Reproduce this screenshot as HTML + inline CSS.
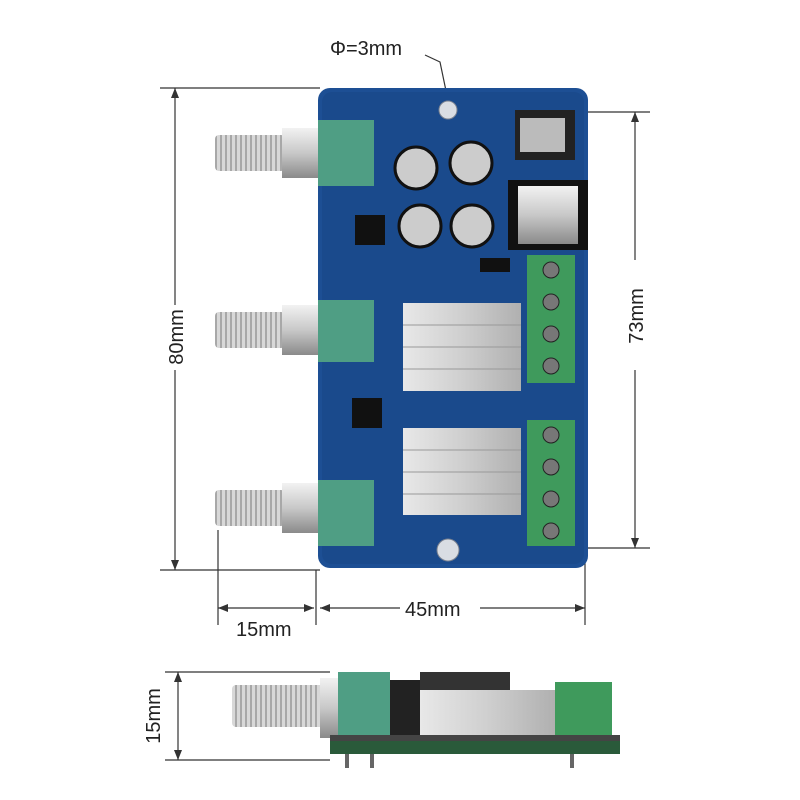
<!DOCTYPE html>
<html><head><meta charset="utf-8"><style>
html,body{margin:0;padding:0;background:#fff;}
svg{display:block}
text{font-family:"Liberation Sans",sans-serif;fill:#222}
</style></head><body>
<svg width="800" height="800" viewBox="0 0 800 800" xmlns="http://www.w3.org/2000/svg">
<defs>
<linearGradient id="metal" x1="0" y1="0" x2="0" y2="1">
<stop offset="0" stop-color="#f2f2f2"/><stop offset="0.5" stop-color="#c8c8c8"/><stop offset="1" stop-color="#8a8a8a"/></linearGradient>
<linearGradient id="hs" x1="0" y1="0" x2="1" y2="0">
<stop offset="0" stop-color="#e8e8e8"/><stop offset="0.5" stop-color="#cfcfcf"/><stop offset="1" stop-color="#b0b0b0"/></linearGradient>
<pattern id="knurl" width="5" height="10" patternUnits="userSpaceOnUse"><rect width="5" height="10" fill="#d8d8d8"/><rect width="2" height="10" fill="#a8a8a8"/></pattern>
</defs>
<!-- dimension lines -->
<g stroke="#333" stroke-width="1.2" fill="none">
<line x1="160" y1="88" x2="320" y2="88"/><line x1="160" y1="570" x2="320" y2="570"/>
<line x1="175" y1="88" x2="175" y2="305"/><line x1="175" y1="370" x2="175" y2="570"/>
<line x1="585" y1="112" x2="650" y2="112"/><line x1="575" y1="548" x2="650" y2="548"/>
<line x1="635" y1="112" x2="635" y2="260"/><line x1="635" y1="370" x2="635" y2="548"/>
<line x1="218" y1="530" x2="218" y2="625"/><line x1="316" y1="570" x2="316" y2="625"/><line x1="585" y1="560" x2="585" y2="625"/>
<line x1="218" y1="608" x2="314" y2="608"/><line x1="320" y1="608" x2="400" y2="608"/><line x1="480" y1="608" x2="585" y2="608"/>
<polyline points="425,55 440,62 450,110"/>
<line x1="165" y1="672" x2="330" y2="672"/><line x1="165" y1="760" x2="330" y2="760"/>
<line x1="178" y1="672" x2="178" y2="760"/>
</g>
<g fill="#333">
<polygon points="175,88 171,98 179,98"/><polygon points="175,570 171,560 179,560"/>
<polygon points="635,112 631,122 639,122"/><polygon points="635,548 631,538 639,538"/>
<polygon points="218,608 228,604 228,612"/><polygon points="314,608 304,604 304,612"/>
<polygon points="320,608 330,604 330,612"/><polygon points="585,608 575,604 575,612"/>
<polygon points="178,672 174,682 182,682"/><polygon points="178,760 174,750 182,750"/>
</g>
<text x="330" y="55" font-size="20">Φ=3mm</text>
<text x="405" y="616" font-size="20">45mm</text>
<text x="236" y="636" font-size="20">15mm</text>
<text transform="translate(183,337) rotate(-90)" font-size="20" text-anchor="middle">80mm</text>
<text transform="translate(643,316) rotate(-90)" font-size="20" text-anchor="middle">73mm</text>
<text transform="translate(160,716) rotate(-90)" font-size="20" text-anchor="middle">15mm</text>
<!-- PCB -->
<rect x="318" y="88" width="270" height="480" rx="12" fill="#1d4f94"/>
<rect x="322" y="92" width="262" height="472" rx="10" fill="#1a4a8c"/>
<circle cx="448" cy="110" r="9" fill="#d9dde3" stroke="#7a8290"/>
<circle cx="448" cy="550" r="11" fill="#d9dde3" stroke="#7a8290"/>
<!-- pots -->
<g>
<rect x="215" y="135" width="70" height="36" fill="url(#knurl)" rx="4"/>
<rect x="282" y="128" width="40" height="50" fill="url(#metal)"/>
<rect x="318" y="120" width="56" height="66" fill="#4f9e84"/>
<rect x="215" y="312" width="70" height="36" fill="url(#knurl)" rx="4"/>
<rect x="282" y="305" width="40" height="50" fill="url(#metal)"/>
<rect x="318" y="300" width="56" height="62" fill="#4f9e84"/>
<rect x="215" y="490" width="70" height="36" fill="url(#knurl)" rx="4"/>
<rect x="282" y="483" width="40" height="50" fill="url(#metal)"/>
<rect x="318" y="480" width="56" height="66" fill="#4f9e84"/>
</g>
<!-- caps -->
<g stroke="#111" stroke-width="3">
<circle cx="416" cy="168" r="21" fill="#ccc"/><circle cx="471" cy="163" r="21" fill="#ccc"/>
<circle cx="420" cy="226" r="21" fill="#ccc"/><circle cx="472" cy="226" r="21" fill="#ccc"/>
</g>
<!-- jacks -->
<rect x="515" y="110" width="60" height="50" fill="#222"/>
<rect x="520" y="118" width="45" height="34" fill="#bbb"/>
<rect x="508" y="180" width="80" height="70" fill="#111"/>
<rect x="518" y="186" width="60" height="58" fill="url(#metal)"/>
<rect x="480" y="258" width="30" height="14" fill="#111"/>
<!-- ICs -->
<rect x="355" y="215" width="30" height="30" fill="#111"/>
<rect x="352" y="398" width="30" height="30" fill="#111"/>
<!-- heatsinks -->
<rect x="403" y="303" width="118" height="88" fill="url(#hs)"/>
<rect x="403" y="428" width="118" height="87" fill="url(#hs)"/>
<g stroke="#999" stroke-width="1">
<line x1="403" y1="325" x2="521" y2="325"/><line x1="403" y1="347" x2="521" y2="347"/><line x1="403" y1="369" x2="521" y2="369"/>
<line x1="403" y1="450" x2="521" y2="450"/><line x1="403" y1="472" x2="521" y2="472"/><line x1="403" y1="494" x2="521" y2="494"/>
</g>
<!-- terminal blocks -->
<rect x="527" y="255" width="48" height="128" fill="#3f9a5c"/>
<rect x="527" y="420" width="48" height="126" fill="#3f9a5c"/>
<g fill="#777" stroke="#222">
<circle cx="551" cy="270" r="8"/><circle cx="551" cy="302" r="8"/><circle cx="551" cy="334" r="8"/><circle cx="551" cy="366" r="8"/>
<circle cx="551" cy="435" r="8"/><circle cx="551" cy="467" r="8"/><circle cx="551" cy="499" r="8"/><circle cx="551" cy="531" r="8"/>
</g>
<!-- side view -->
<rect x="232" y="685" width="98" height="42" fill="url(#knurl)" rx="4"/>
<rect x="320" y="678" width="20" height="60" fill="url(#metal)"/>
<rect x="338" y="672" width="52" height="75" fill="#4f9e84"/>
<rect x="390" y="680" width="30" height="60" fill="#222"/>
<rect x="420" y="690" width="135" height="45" fill="url(#hs)"/>
<rect x="420" y="672" width="90" height="18" fill="#333"/>
<rect x="555" y="682" width="57" height="58" fill="#3f9a5c"/>
<rect x="330" y="740" width="290" height="14" fill="#2a5a3a"/>
<rect x="330" y="735" width="290" height="6" fill="#444"/>
<rect x="345" y="754" width="4" height="14" fill="#666"/><rect x="370" y="754" width="4" height="14" fill="#666"/><rect x="570" y="754" width="4" height="14" fill="#666"/>
</svg>
</body></html>
